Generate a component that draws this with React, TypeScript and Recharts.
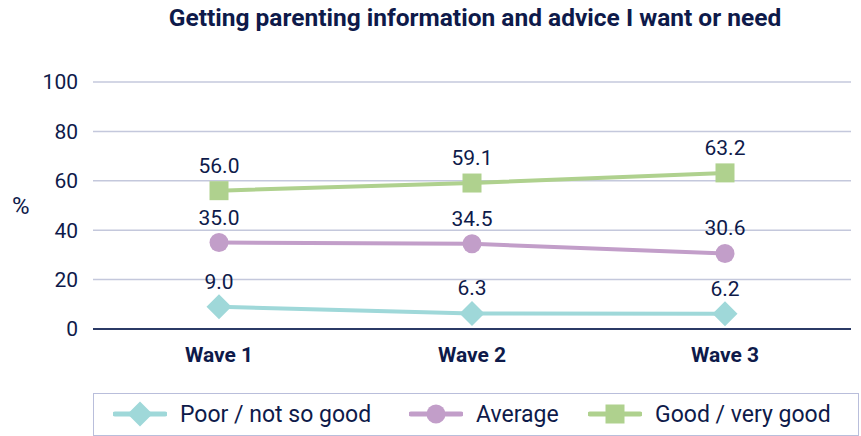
import React from 'react';
import { LineChart, Line, XAxis, YAxis, CartesianGrid, Legend, LabelList } from 'recharts';

const waves = ['Wave 1', 'Wave 2', 'Wave 3'];
const poor = [9.0, 6.3, 6.2];
const average = [35.0, 34.5, 30.6];
const good = [56.0, 59.1, 63.2];
const yTicks = [0, 20, 40, 60, 80, 100];

const NAVY = '#0e1a4a';
const FONT = 'Roboto, "Noto Sans", sans-serif';

const series = [
    { key: 'poor', name: 'Poor / not so good', color: '#9fd8d9', shape: 'diamond' },
    { key: 'average', name: 'Average', color: '#c29ec9', shape: 'circle' },
    { key: 'good', name: 'Good / very good', color: '#afd18e', shape: 'square' },
];

// where each legend entry starts inside the legend box
const legendLefts = [19, 315, 494];

const data = waves.map((wave, i) => ({
    wave,
    poor: poor[i],
    average: average[i],
    good: good[i],
}));

const Marker = ({ cx, cy, shape, color }: any) => {
    if (cx == null || cy == null) return null;
    if (shape === 'diamond') {
        const r = 12.5;
        return <polygon points={`${cx},${cy - r} ${cx + r},${cy} ${cx},${cy + r} ${cx - r},${cy}`} fill={color} />;
    }
    if (shape === 'square') {
        const s = 9.5;
        return <rect x={cx - s} y={cy - s} width={s * 2} height={s * 2} fill={color} />;
    }
    return <circle cx={cx} cy={cy} r={9.5} fill={color} />;
};

const LegendContent = () => (
    <div style={{
        position: 'relative', border: '1px solid #b9bedb', height: 43, boxSizing: 'border-box',
        fontFamily: FONT, fontSize: 23, color: NAVY,
    }}>
        {series.map((s, i) => (
            <div key={s.key} style={{ position: 'absolute', left: legendLefts[i], top: 5, display: 'flex', alignItems: 'center', whiteSpace: 'nowrap' }}>
                <svg width={54} height={30}>
                    <line x1={2} y1={15} x2={52} y2={15} stroke={s.color} strokeWidth={5} strokeLinecap="round" />
                    <Marker cx={27} cy={15} shape={s.shape} color={s.color} />
                </svg>
                <span style={{ marginLeft: 13 }}>{s.name}</span>
            </div>
        ))}
    </div>
);

export default function App() {
    return (
        <div style={{ position: 'absolute', left: 0, top: 0, width: 861, height: 436, background: '#fff' }}>
            <div style={{
                position: 'absolute', left: 0, top: 3, width: 950, textAlign: 'center',
                fontFamily: FONT, fontWeight: 700, fontSize: 24.5, color: NAVY,
            }}>
                Getting parenting information and advice I want or need
            </div>
            <LineChart width={861} height={436} data={data} margin={{ top: 82, right: 10, left: 0, bottom: 0 }}>
                <CartesianGrid vertical={false} stroke="#c4c8dc" strokeWidth={1.5} />
                <XAxis
                    dataKey="wave"
                    height={64}
                    padding={{ left: 126, right: 126 }}
                    axisLine={{ stroke: '#2b3a66', strokeWidth: 2 }}
                    tickLine={false}
                    tickSize={0}
                    tickMargin={18}
                    tick={{ fill: NAVY, fontSize: 21, fontWeight: 700, fontFamily: FONT }}
                />
                <YAxis
                    width={93}
                    domain={[0, 100]}
                    ticks={yTicks}
                    axisLine={false}
                    tickLine={false}
                    tickSize={0}
                    tickMargin={15}
                    tick={{ fill: NAVY, fontSize: 21, fontFamily: FONT }}
                    label={{ value: '%', position: 'insideLeft', offset: 12, angle: 0, fill: NAVY, fontSize: 24, fontFamily: FONT }}
                />
                <Legend verticalAlign="bottom" height={43} wrapperStyle={{ left: 93, width: 766 }} content={<LegendContent />} />
                {series.map((s) => (
                    <Line
                        key={s.key}
                        dataKey={s.key}
                        name={s.name}
                        stroke={s.color}
                        strokeWidth={4}
                        dot={<Marker shape={s.shape} color={s.color} />}
                        activeDot={false}
                        isAnimationActive={false}
                    >
                        <LabelList
                            dataKey={s.key}
                            position="top"
                            offset={18}
                            formatter={(v: any) => Number(v).toFixed(1)}
                            style={{ fill: NAVY, fontSize: 21, fontFamily: FONT }}
                        />
                    </Line>
                ))}
            </LineChart>
        </div>
    );
}
